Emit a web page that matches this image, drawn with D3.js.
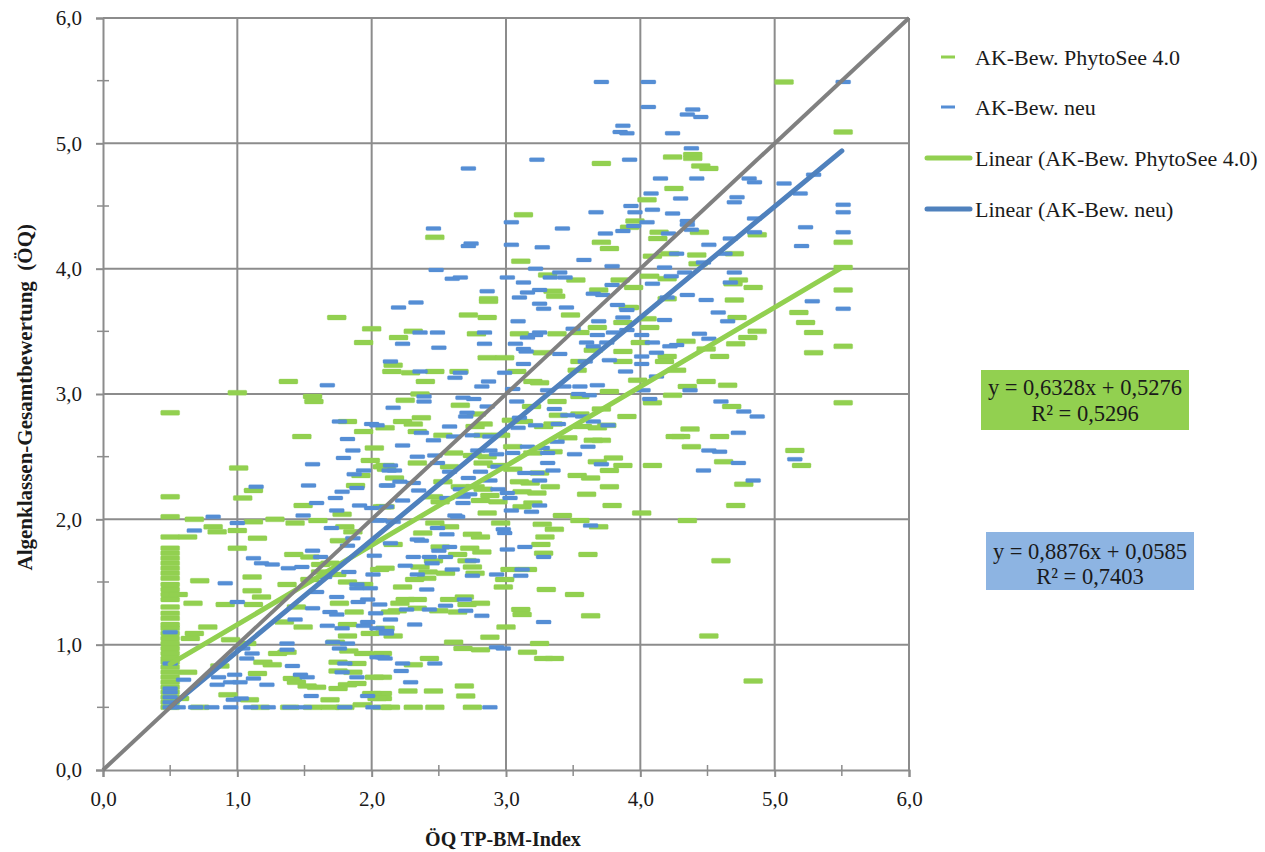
<!DOCTYPE html>
<html>
<head>
<meta charset="utf-8">
<script src="https://cdn.jsdelivr.net/npm/d3@7/dist/d3.min.js"></script>
<style>
  html, body { margin: 0; padding: 0; background: #fff; }
  svg { display: block; font-family: "Liberation Serif", "Times New Roman", serif; }
</style>
</head>
<body>
<svg id="chart" width="1265" height="852"></svg>
<script>
// Tick values of both axes
const axisTicks = [0, 1, 2, 3, 4, 5, 6];
const minorTicks = [0.5, 1.5, 2.5, 3.5, 4.5, 5.5];

// Series labels
const seriesNames = ["AK-Bew. PhytoSee 4.0", "AK-Bew. neu"];
const trendNames = ["Linear (AK-Bew. PhytoSee 4.0)", "Linear (AK-Bew. neu)"];

// Linear regression results [slope, intercept, R²]
const fitPhytoSee = [0.6328, 0.5276, 0.5296];
const fitNeu = [0.8876, 0.0585, 0.7403];
const fitRange = [0.5, 5.5];

// AK-Bew. PhytoSee 4.0: [ÖQ TP-BM-Index, Algenklassen-Gesamtbewertung]
const phytoSee = [
[5.07,5.49],[5.51,5.09],[3.71,4.84],[4.24,4.89],[4.39,4.91],[4.39,4.88],[4.45,4.82],[4.51,4.80],
[4.25,4.64],[4.05,4.55],[3.13,4.43],[3.96,4.38],[3.92,4.33],[2.47,4.25],[4.14,4.29],[4.13,4.24],
[3.71,4.21],[3.77,4.16],[3.11,4.06],[4.09,4.10],[4.22,4.12],[3.31,3.95],[3.52,3.91],[3.85,3.91],
[4.07,3.94],[4.20,3.92],[2.87,3.76],[3.35,3.82],[3.37,3.78],[3.69,3.83],[3.95,3.85],[3.92,3.69],
[4.20,3.76],[4.44,4.29],[4.87,4.27],[5.51,4.21],[4.42,4.11],[4.70,4.12],[4.43,4.04],[5.51,4.01],
[4.73,3.91],[4.69,3.88],[4.84,3.85],[5.51,3.83],[4.70,3.75],[5.18,3.65],[5.23,3.57],[5.29,3.49],
[4.72,3.61],[4.87,3.50],[4.80,3.45],[4.34,3.42],[5.51,3.38],[4.71,3.40],[5.29,3.33],[4.49,3.36],
[4.59,3.30],[4.27,3.19],[4.49,3.10],[4.65,3.07],[4.35,3.06],[5.51,2.93],[4.68,2.90],[4.37,2.72],
[4.30,2.66],[4.59,2.66],[4.38,2.58],[5.15,2.55],[5.20,2.43],[4.62,2.46],[4.77,2.28],[4.71,2.11],
[4.35,1.99],[4.60,1.67],[4.51,1.07],[4.84,0.71],[2.87,3.74],[3.91,3.69],[2.72,3.63],[2.86,3.61],
[3.48,3.63],[4.05,3.60],[3.87,3.57],[2.31,3.50],[2.20,3.45],[2.78,3.48],[3.10,3.48],[3.38,3.48],
[3.55,3.49],[3.68,3.53],[4.07,3.53],[4.00,3.41],[3.65,3.35],[3.87,3.34],[4.20,3.30],[2.86,3.29],
[2.99,3.29],[3.27,3.33],[2.16,3.23],[2.15,3.18],[2.29,3.17],[2.47,3.18],[2.65,3.18],[2.40,3.10],
[3.55,3.26],[3.87,3.26],[4.18,3.26],[3.08,3.18],[3.53,3.19],[3.98,3.11],[3.20,3.10],[3.25,3.09],
[3.77,3.02],[3.55,2.98],[4.09,2.93],[4.24,2.99],[2.36,3.00],[2.25,2.95],[2.66,2.91],[3.19,2.90],
[3.38,2.94],[2.78,2.84],[3.71,2.88],[3.55,2.84],[3.39,2.83],[3.90,2.82],[3.35,2.76],[3.28,2.74],
[3.13,2.78],[3.04,2.79],[2.37,2.81],[2.23,2.78],[2.31,2.76],[2.83,2.76],[2.77,2.74],[3.75,2.75],
[3.57,2.74],[3.68,2.73],[4.26,2.66],[3.65,2.63],[3.71,2.63],[2.10,2.73],[2.34,2.70],[2.53,2.67],
[2.83,2.67],[2.96,2.67],[3.46,2.65],[3.05,2.58],[3.35,2.54],[3.20,2.53],[2.61,2.53],[2.75,2.51],
[2.86,2.50],[3.68,2.46],[3.80,2.49],[3.87,2.43],[3.77,2.39],[4.09,2.43],[2.08,2.42],[2.34,2.45],
[2.58,2.42],[2.83,2.45],[2.93,2.43],[3.05,2.40],[3.25,2.37],[3.53,2.35],[3.63,2.33],[2.17,2.33],
[2.53,2.30],[2.66,2.26],[2.77,2.26],[2.83,2.24],[2.88,2.19],[2.94,2.14],[3.10,2.30],[3.18,2.29],
[3.33,2.26],[3.12,2.22],[3.23,2.21],[3.20,2.13],[3.12,2.10],[3.77,2.26],[3.60,2.20],[3.79,2.11],
[2.46,2.18],[2.51,2.14],[2.81,2.15],[2.08,2.10],[3.42,2.03],[3.55,1.99],[4.01,2.05],[2.86,2.05],
[2.47,1.97],[2.58,1.94],[2.96,1.97],[3.27,1.96],[3.36,1.92],[3.69,1.94],[2.38,1.89],[2.75,1.88],
[2.81,1.86],[3.29,1.86],[2.51,1.78],[2.73,1.77],[3.26,1.80],[3.61,1.72],[2.16,1.80],[2.82,1.74],
[2.64,1.72],[3.28,1.73],[2.46,1.67],[2.71,1.67],[2.10,1.61],[2.36,1.62],[2.75,1.62],[2.42,1.58],
[3.03,1.60],[3.16,1.60],[2.55,1.57],[2.77,1.57],[2.41,1.53],[2.32,1.52],[2.99,1.52],[2.23,1.46],
[2.98,1.46],[3.30,1.44],[3.51,1.40],[2.25,1.36],[2.34,1.36],[2.58,1.36],[2.69,1.38],[2.21,1.33],
[2.81,1.33],[2.71,1.32],[2.34,1.29],[2.19,1.27],[2.50,1.27],[2.64,1.26],[3.11,1.28],[3.12,1.24],
[3.63,1.23],[2.10,1.13],[2.16,1.07],[3.00,1.14],[2.88,1.06],[2.61,1.02],[2.68,0.97],[2.81,0.96],
[3.25,1.01],[3.16,0.94],[3.28,0.89],[3.36,0.89],[2.08,0.93],[2.43,0.89],[2.31,0.84],[2.08,0.74],
[2.69,0.67],[2.27,0.63],[2.46,0.63],[2.08,0.61],[2.70,0.59],[2.08,0.57],[2.14,0.50],[2.31,0.50],
[2.47,0.50],[2.75,0.50],[1.12,2.23],[1.88,2.27],[0.50,2.18],[1.04,2.17],[1.49,2.11],[2.10,2.10],
[1.78,2.04],[0.50,2.02],[0.68,2.00],[1.12,1.98],[1.28,2.00],[1.43,1.97],[1.60,1.99],[0.82,1.94],
[0.85,1.90],[1.00,1.91],[1.80,1.94],[1.86,1.90],[0.50,1.86],[0.63,1.86],[1.15,1.85],[1.76,1.83],
[1.00,1.77],[0.50,1.73],[1.42,1.72],[1.54,1.70],[0.50,1.65],[1.62,1.64],[1.69,1.65],[0.50,1.61],
[0.50,1.57],[2.06,1.60],[1.62,1.58],[1.74,1.56],[0.72,1.51],[1.11,1.54],[1.37,1.48],[1.54,1.52],
[1.82,1.50],[1.94,1.48],[0.50,1.48],[0.50,1.44],[1.11,1.43],[0.50,1.40],[0.56,1.40],[1.18,1.38],
[0.50,1.36],[0.50,1.30],[0.67,1.33],[0.91,1.32],[1.12,1.32],[1.44,1.30],[1.76,1.33],[1.87,1.26],
[2.14,1.26],[0.78,1.14],[1.35,1.18],[1.49,1.14],[1.82,1.16],[0.50,1.16],[0.50,1.13],[0.68,1.09],
[0.50,1.05],[0.65,1.05],[1.99,1.09],[1.82,1.07],[0.95,1.04],[1.07,1.01],[1.73,1.02],[0.50,1.01],
[1.30,0.93],[1.37,0.94],[1.83,0.95],[1.94,0.93],[0.50,0.97],[0.50,0.93],[0.50,0.89],[1.19,0.86],
[1.26,0.84],[1.75,0.86],[1.89,0.85],[0.50,0.82],[0.87,0.83],[0.63,0.78],[1.15,0.77],[1.41,0.73],
[1.75,0.79],[1.86,0.78],[2.02,0.74],[0.50,0.74],[0.50,0.70],[1.44,0.70],[1.52,0.67],[1.59,0.66],
[1.82,0.68],[1.89,0.69],[1.75,0.65],[0.50,0.58],[0.57,0.57],[0.93,0.60],[1.09,0.56],[1.69,0.56],
[2.00,0.61],[2.04,0.57],[0.50,0.50],[1.69,0.50],[2.08,0.50],[1.93,0.52],[0.72,0.50],[1.17,0.50],
[1.39,0.50],[1.56,0.50],[1.80,0.50],[0.50,1.25],[0.50,1.21],[0.50,0.66],[0.50,0.62],[0.50,0.54],
[0.50,0.86],[0.50,0.78],[0.50,1.53],[0.50,1.09],[0.50,1.69],[0.50,1.77],[1.74,3.61],[2.00,3.52],
[1.94,3.41],[1.38,3.10],[1.00,3.01],[1.56,2.98],[1.57,2.94],[0.50,2.85],[1.82,2.78],[1.94,2.70],
[1.48,2.66],[2.02,2.57],[1.99,2.47],[1.01,2.41],[2.10,2.43],[2.11,2.40],[1.92,2.35]
];

// AK-Bew. neu: [ÖQ TP-BM-Index, Algenklassen-Gesamtbewertung]
const neu = [
[3.71,5.49],[4.06,5.49],[5.51,5.49],[4.06,5.29],[3.87,5.14],[3.85,5.09],[3.90,5.08],[4.24,5.08],
[3.23,4.87],[3.92,4.87],[2.72,4.80],[4.15,4.72],[4.08,4.60],[3.93,4.50],[4.09,4.47],[3.67,4.45],
[3.96,4.45],[4.24,4.44],[3.04,4.37],[4.05,4.37],[3.95,4.34],[3.42,4.32],[3.87,4.30],[2.46,4.32],
[3.74,4.28],[4.21,4.28],[2.74,4.20],[2.72,4.18],[3.04,4.19],[3.27,4.17],[3.58,4.07],[4.18,4.01],
[3.79,4.02],[2.48,3.99],[3.22,4.00],[2.60,3.92],[2.66,3.93],[3.01,3.93],[3.40,3.97],[3.33,3.93],
[3.44,3.93],[3.13,3.89],[3.79,3.87],[4.09,3.88],[4.23,3.94],[2.86,3.82],[3.16,3.81],[3.25,3.83],
[3.65,3.80],[3.72,3.79],[3.10,3.77],[3.25,3.72],[3.45,3.69],[3.83,3.71],[4.20,3.77],[4.39,5.27],
[4.35,5.23],[4.45,5.21],[4.38,4.96],[4.81,4.72],[4.85,4.69],[4.42,4.72],[5.07,4.68],[5.29,4.75],
[5.19,4.60],[4.72,4.57],[4.70,4.53],[4.30,4.56],[5.51,4.51],[5.51,4.45],[4.35,4.38],[4.35,4.35],
[4.38,4.31],[4.85,4.40],[4.85,4.29],[5.23,4.33],[5.51,4.29],[4.67,4.24],[5.20,4.18],[4.51,4.19],
[4.63,4.12],[4.27,4.12],[4.47,4.05],[4.70,3.97],[4.33,3.97],[4.67,3.89],[4.35,3.79],[4.49,3.75],
[5.28,3.74],[5.51,3.68],[4.58,3.65],[4.65,3.58],[4.44,3.48],[4.51,3.44],[4.27,3.39],[4.37,3.03],
[4.60,2.94],[4.77,2.86],[4.87,2.82],[4.73,2.69],[4.51,2.55],[4.59,2.54],[5.15,2.48],[4.73,2.45],
[4.47,2.39],[4.84,2.31],[2.20,3.69],[2.33,3.73],[3.28,3.68],[3.90,3.67],[3.87,3.61],[3.09,3.58],
[3.69,3.58],[4.18,3.59],[2.36,3.49],[2.49,3.49],[2.84,3.49],[3.25,3.49],[3.22,3.47],[3.16,3.45],
[3.50,3.52],[3.68,3.47],[3.80,3.49],[3.90,3.51],[4.01,3.47],[2.23,3.40],[2.50,3.37],[2.84,3.40],
[3.07,3.40],[3.13,3.36],[3.15,3.34],[3.60,3.41],[3.75,3.41],[3.65,3.38],[4.09,3.41],[4.22,3.38],
[4.01,3.30],[4.12,3.33],[3.40,3.32],[2.14,3.26],[2.36,3.18],[2.66,3.17],[2.62,3.13],[3.59,3.26],
[3.77,3.27],[3.89,3.18],[4.01,3.24],[2.99,3.17],[3.13,3.24],[4.12,3.14],[2.87,3.10],[2.82,3.06],
[3.05,3.04],[3.31,3.03],[3.43,3.06],[3.55,3.06],[3.68,3.07],[3.54,3.00],[3.62,2.99],[4.02,3.03],
[4.07,2.96],[2.39,2.98],[2.68,2.97],[2.76,2.96],[2.39,2.94],[2.86,2.90],[2.16,2.89],[3.08,2.94],
[3.36,2.88],[2.71,2.85],[2.70,2.82],[3.46,2.83],[3.57,2.82],[3.10,2.81],[3.65,2.78],[3.39,2.76],
[3.22,2.75],[3.09,2.73],[2.58,2.74],[3.76,2.75],[3.61,2.58],[2.37,2.69],[2.61,2.66],[2.46,2.63],
[2.88,2.66],[2.75,2.67],[3.38,2.62],[2.23,2.59],[3.16,2.58],[3.27,2.57],[3.31,2.53],[2.34,2.50],
[2.47,2.51],[2.79,2.55],[2.88,2.55],[2.93,2.52],[3.05,2.53],[3.51,2.52],[3.71,2.44],[2.14,2.43],
[2.17,2.39],[2.49,2.45],[2.58,2.38],[2.81,2.38],[2.94,2.42],[3.14,2.37],[3.23,2.37],[3.31,2.45],
[3.35,2.39],[2.21,2.30],[2.31,2.29],[2.72,2.33],[2.88,2.31],[2.66,2.24],[2.73,2.20],[2.68,2.18],
[2.94,2.24],[3.01,2.21],[3.03,2.17],[3.25,2.31],[3.25,2.11],[2.12,2.27],[2.35,2.23],[2.23,2.15],
[2.56,2.17],[2.68,2.13],[2.11,2.10],[3.04,2.07],[3.19,2.06],[2.62,2.03],[2.64,2.02],[2.06,1.99],
[2.16,1.98],[2.49,1.93],[2.98,1.92],[2.99,1.89],[3.63,1.95],[2.56,1.88],[2.34,1.84],[2.37,1.83],
[2.14,1.81],[2.58,1.78],[3.01,1.76],[3.14,1.78],[2.31,1.70],[2.43,1.70],[2.50,1.75],[2.55,1.70],
[3.28,1.70],[2.45,1.65],[2.75,1.67],[2.25,1.63],[2.60,1.60],[3.12,1.60],[2.34,1.56],[2.75,1.55],
[2.93,1.56],[3.11,1.55],[2.41,1.44],[2.69,1.36],[2.55,1.31],[2.26,1.28],[2.43,1.28],[2.70,1.27],
[2.82,1.23],[2.14,1.20],[2.32,1.16],[3.28,1.18],[2.11,1.11],[2.93,0.98],[2.98,0.97],[2.10,0.89],
[2.23,0.85],[2.47,0.85],[2.22,0.79],[2.29,0.70],[2.88,0.50],[1.14,2.26],[1.53,2.27],[1.89,2.25],
[2.11,2.27],[1.78,2.22],[1.73,2.17],[1.59,2.13],[1.91,2.11],[2.00,2.09],[1.74,2.07],[1.49,2.03],
[0.82,2.02],[1.00,1.97],[2.04,1.99],[0.68,1.91],[1.70,1.93],[1.86,1.85],[1.82,1.79],[1.56,1.75],
[1.62,1.70],[2.02,1.71],[1.12,1.69],[1.18,1.65],[1.26,1.64],[1.38,1.61],[1.48,1.62],[1.83,1.58],
[0.91,1.49],[1.65,1.54],[1.89,1.48],[2.01,1.56],[1.59,1.42],[1.89,1.45],[1.99,1.45],[1.74,1.38],
[1.97,1.36],[1.00,1.34],[1.56,1.29],[1.90,1.34],[2.06,1.32],[1.69,1.26],[1.74,1.24],[2.03,1.25],
[1.43,1.20],[1.67,1.15],[1.94,1.15],[1.97,1.18],[2.04,1.13],[0.50,1.10],[1.78,1.13],[2.11,1.09],
[1.71,1.02],[1.82,1.01],[1.04,0.97],[1.11,0.93],[1.37,1.01],[1.37,0.96],[1.76,0.97],[2.04,0.90],
[0.50,0.85],[1.07,0.89],[1.41,0.83],[1.80,0.85],[2.08,0.90],[0.86,0.74],[0.98,0.76],[1.12,0.73],
[1.47,0.76],[1.52,0.74],[1.78,0.78],[1.89,0.74],[0.60,0.72],[0.95,0.70],[1.02,0.70],[0.85,0.68],
[1.22,0.68],[0.50,0.65],[0.50,0.62],[1.03,0.57],[0.97,0.56],[1.55,0.59],[1.97,0.59],[0.56,0.50],
[0.69,0.50],[0.81,0.50],[0.95,0.50],[1.10,0.50],[1.23,0.50],[1.39,0.50],[1.50,0.50],[1.80,0.50],
[2.01,0.50],[0.50,0.58],[0.50,0.54],[0.50,0.50],[1.67,3.07],[1.76,2.78],[2.00,2.76],[2.04,2.75],
[1.82,2.64],[1.86,2.55],[1.79,2.49],[1.56,2.44],[1.94,2.39],[1.87,2.36],[2.13,2.39]
];

const colGreen = "#92D050";
const colBlueMark = "#558ED5";
const colBlueTrend = "#4F81BD";
const colGrey = "#808080";
const colGrid = "#8c8c8c";
const colText = "#1a1a1a";

const svg = d3.select("#chart");
svg.append("rect").attr("width", 1265).attr("height", 852).attr("fill", "#fff");

const x = d3.scaleLinear().domain([0, 6]).range([103, 909]);
const y = d3.scaleLinear().domain([0, 6]).range([770, 18]);
const fmt = d => d.toFixed(1).replace(".", ",");

// Gridlines
const grid = svg.append("g");
grid.selectAll("line.v").data(axisTicks.slice(1)).join("line")
  .attr("x1", d => x(d)).attr("x2", d => x(d))
  .attr("y1", y(0)).attr("y2", y(6))
  .attr("stroke", colGrid).attr("stroke-width", 2);
grid.selectAll("line.h").data(axisTicks.slice(1)).join("line")
  .attr("x1", x(0)).attr("x2", x(6))
  .attr("y1", d => y(d)).attr("y2", d => y(d))
  .attr("stroke", colGrid).attr("stroke-width", 2);

// Axes
const yAxis = d3.axisLeft(y).tickValues(axisTicks).tickFormat(fmt).tickSize(7).tickPadding(14);
const xAxis = d3.axisBottom(x).tickValues(axisTicks).tickFormat(fmt).tickSize(7).tickPadding(14);
const gy = svg.append("g").attr("transform", `translate(${x(0)},0)`).call(yAxis);
const gx = svg.append("g").attr("transform", `translate(0,${y(0)})`).call(xAxis);
[gx, gy].forEach(g => {
  g.attr("font-family", null).attr("font-size", null);
  g.select(".domain").attr("stroke", colGrid).attr("stroke-width", 2);
  g.selectAll(".tick line").attr("stroke", colGrid).attr("stroke-width", 2);
  g.selectAll(".tick text").attr("font-family", "Liberation Serif, serif")
    .attr("font-size", 21).attr("fill", colText);
});

// Minor ticks crossing the axes
svg.append("g").selectAll("line").data(minorTicks).join("line")
  .attr("x1", x(0) - 6).attr("x2", x(0) + 6)
  .attr("y1", d => y(d)).attr("y2", d => y(d))
  .attr("stroke", colGrid).attr("stroke-width", 1.5);
svg.append("g").selectAll("line").data(minorTicks).join("line")
  .attr("x1", d => x(d)).attr("x2", d => x(d))
  .attr("y1", y(0) - 5).attr("y2", y(0) + 6)
  .attr("stroke", colGrid).attr("stroke-width", 1.5);

// Scatter markers (short dashes)
function dashes(data, color, w, h) {
  svg.append("g").selectAll("rect").data(data).join("rect")
    .attr("x", d => x(d[0]) - w / 2).attr("y", d => y(d[1]) - h / 2)
    .attr("width", w).attr("height", h).attr("rx", 1.2)
    .attr("fill", color).attr("stroke", color).attr("stroke-opacity", 0.35).attr("stroke-width", 0.8);
}
dashes(phytoSee, colGreen, 19, 5);
dashes(neu, colBlueMark, 15, 4);

// Trend lines
const line = d3.line().x(d => x(d[0])).y(d => y(d[1]));
function trend(fit, color, width) {
  const pts = fitRange.map(v => [v, fit[0] * v + fit[1]]);
  svg.append("path").attr("d", line(pts)).attr("fill", "none")
    .attr("stroke", color).attr("stroke-width", width).attr("stroke-linecap", "round");
}
trend(fitPhytoSee, colGreen, 5);
trend(fitNeu, colBlueTrend, 5);
// 1:1 reference line
svg.append("path").attr("d", line([[0, 0], [6, 6]])).attr("fill", "none")
  .attr("stroke", colGrey).attr("stroke-width", 4);

// Axis titles
svg.append("text").attr("x", 503).attr("y", 846).attr("text-anchor", "middle")
  .attr("font-size", 20).attr("font-weight", "bold").attr("fill", colText)
  .text("ÖQ TP-BM-Index");
svg.append("text").attr("transform", "translate(32,224) rotate(-90)").attr("text-anchor", "end")
  .attr("font-size", 21).attr("font-weight", "bold").attr("fill", colText)
  .attr("xml:space", "preserve")
  .text("Algenklassen-Gesamtbewertung  (ÖQ)");

// Legend
const legend = svg.append("g").attr("font-size", 22).attr("fill", colText);
const legendRows = [
  { label: seriesNames[0], color: colGreen, type: "mark", yy: 57 },
  { label: seriesNames[1], color: colBlueMark, type: "mark", yy: 107 },
  { label: trendNames[0], color: colGreen, type: "line", yy: 158 },
  { label: trendNames[1], color: colBlueTrend, type: "line", yy: 209 }
];
legendRows.forEach(r => {
  if (r.type === "mark") {
    legend.append("rect").attr("x", 941).attr("y", r.yy - 1.5).attr("width", 14).attr("height", 3)
      .attr("fill", r.color);
  } else {
    legend.append("line").attr("x1", 927).attr("x2", 970).attr("y1", r.yy).attr("y2", r.yy)
      .attr("stroke", r.color).attr("stroke-width", 5).attr("stroke-linecap", "round");
  }
  legend.append("text").attr("x", 975).attr("y", r.yy)
    .attr("dy", "0.35em").text(r.label);
});

// Regression equation boxes
const n4 = v => v.toFixed(4).replace(".", ",");
function eqBox(fit, fill, bx, by, bw, bh, l1, l2) {
  svg.append("rect").attr("x", bx).attr("y", by).attr("width", bw).attr("height", bh).attr("fill", fill);
  svg.append("text").attr("x", bx + bw / 2).attr("y", by + l1).attr("dy", "0.35em")
    .attr("text-anchor", "middle").attr("font-size", 22.5).attr("fill", colText)
    .text(`y = ${n4(fit[0])}x + ${n4(fit[1])}`);
  svg.append("text").attr("x", bx + bw / 2).attr("y", by + l2).attr("dy", "0.35em")
    .attr("text-anchor", "middle").attr("font-size", 22.5).attr("fill", colText)
    .text(`R² = ${n4(fit[2])}`);
}
eqBox(fitPhytoSee, "#92D050", 981, 370, 208, 60, 17, 43);
eqBox(fitNeu, "#8DB4E2", 986, 532, 208, 58, 19, 44);
</script>
</body>
</html>
